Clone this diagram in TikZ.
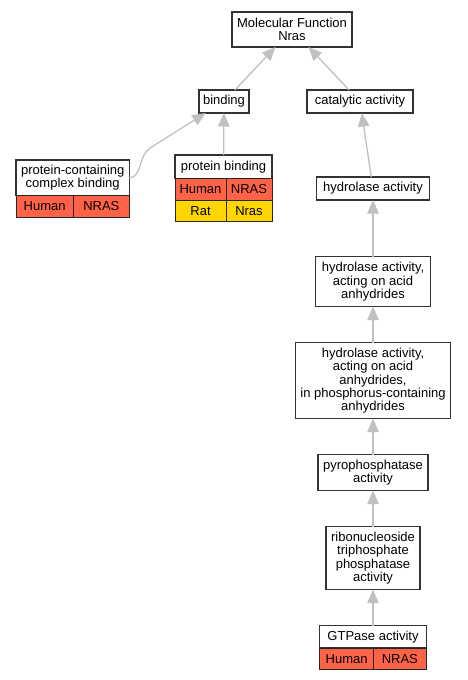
\documentclass[tikz,border=0pt]{standalone}
\usepackage{fontspec}
\setmainfont{Liberation Sans}
\usetikzlibrary{arrows.meta, positioning}
\definecolor{human}{HTML}{FF6347}
\definecolor{rat}{HTML}{FFD700}
\definecolor{isagray}{HTML}{C0C0C0}
\newcommand{\gofont}{\fontsize{13}{13.3}\selectfont}
\newcommand{\rowheight}{21.5pt}
\tikzstyle{term} = [% a GO term box
  rectangle,
  draw=black!80,
  line width=1.3pt,
  fill=white,
  align=center,
  inner sep=2pt,
  outer sep=0pt,
  font=\gofont
  ]
\tikzstyle{cell} = [% species or gene cell below a term
  rectangle,
  draw=black!85,
  line width=1pt,
  minimum height=\rowheight,
  inner sep=0pt,
  outer sep=0pt,
  font=\gofont
  ]
\tikzstyle{isa} = [% is_a link, child to parent
  draw=isagray,
  line width=1.3pt,
  -{Triangle[length=13.5pt, width=11.5pt]}
  ]

\begin{document}
\begin{tikzpicture}[x=1pt, y=1pt, node distance=36pt]
\useasboundingbox (0,0) rectangle (467,-680);

%%% Nodes
\node[term, minimum width=120pt, minimum height=35pt] (mf) at (292,-29.5) {Molecular Function\\Nras};
\node[term, minimum width=50pt, minimum height=23pt] (bind) at (224,-101.5) {binding};
\node[term, minimum width=106pt, minimum height=23pt] (cat) at (360,-101.5) {catalytic activity};
\node[term, minimum width=113pt, minimum height=23pt] (hyd) at (373,-188.5) {hydrolase activity};
\node[term, minimum width=115pt, minimum height=50pt] (hydacid) [below=56.7pt of hyd] {hydrolase activity,\\acting on acid\\anhydrides};
\node[term, minimum width=155pt, minimum height=76pt] (hydphos) [below=of hydacid] {hydrolase activity,\\acting on acid\\anhydrides,\\in phosphorus-containing\\anhydrides};
\node[term, minimum width=110pt, minimum height=36pt] (pyro) [below=of hydphos] {pyrophosphatase\\activity};
\node[term, minimum width=94pt, minimum height=63pt] (ribo) [below=of pyro] {ribonucleoside\\triphosphate\\phosphatase\\activity};
\node[term, minimum width=106.4pt, minimum height=22.3pt] (gtp) [below=of ribo] {GTPase activity};
\node[term, minimum width=113.3pt, minimum height=35.7pt] (pcb) at (72.7,-177.8) {protein-containing\\complex binding};
\node[term, minimum width=97pt, minimum height=23.5pt] (pb) at (223.5,-166.8) {protein binding};

%%% Annotation cells
\node[cell, fill=human, minimum width=57.3pt] (pcbsp) [below right=0pt of pcb.south west] {Human};
\node[cell, fill=human, minimum width=56pt] (pcbgene) [right=0pt of pcbsp] {NRAS};
\node[cell, fill=human, minimum width=51pt] (pbsp) [below right=0pt of pb.south west] {Human};
\node[cell, fill=human, minimum width=46pt] (pbgene) [right=0pt of pbsp] {NRAS};
\node[cell, fill=rat, minimum width=51pt] (pbratsp) [below=0pt of pbsp] {Rat};
\node[cell, fill=rat, minimum width=46pt] (pbratgene) [right=0pt of pbratsp] {Nras};
\node[cell, fill=human, minimum width=53.7pt] (gtpsp) [below right=0pt of gtp.south west] {Human};
\node[cell, fill=human, minimum width=52.7pt] (gtpgene) [right=0pt of gtpsp] {NRAS};

%%% Links
\draw[isa] (bind) -- (mf);
\draw[isa] (cat) -- (mf);
\draw[isa] (pb) -- (bind);
\draw[isa] (pcb.east) .. controls (142,-177.8) and (138,-156) .. (150,-148) -- (bind);
\draw[isa] (hyd) -- (cat);
\draw[isa] (hydacid) -- (hyd);
\draw[isa] (hydphos) -- (hydacid);
\draw[isa] (pyro) -- (hydphos);
\draw[isa] (ribo) -- (pyro);
\draw[isa] (gtp) -- (ribo);

\end{tikzpicture}
\end{document}
